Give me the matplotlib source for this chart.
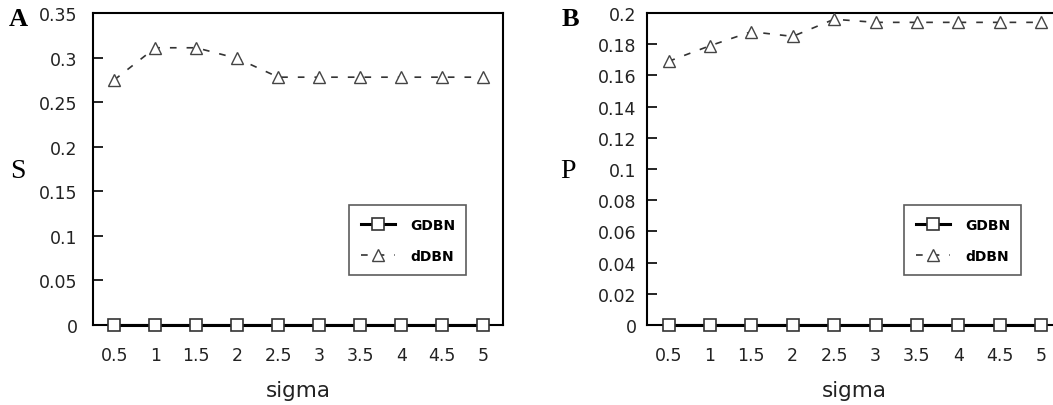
import matplotlib
matplotlib.use('Agg')
import matplotlib.pyplot as plt
from matplotlib.transforms import Affine2D
import numpy as np

plt.rcParams['font.family'] = ['DejaVu Sans']

# 資料
sigma = ["0.5", "1", "1.5", "2", "2.5", "3", "3.5", "4", "4.5", "5"]
s_gdbn = [0, 0, 0, 0, 0, 0, 0, 0, 0, 0]
s_ddbn = [0.275, 0.311, 0.311, 0.299, 0.278, 0.278, 0.278, 0.278, 0.278, 0.278]
p_gdbn = [0, 0, 0, 0, 0, 0, 0, 0, 0, 0]
p_ddbn = [0.169, 0.179, 0.188, 0.185, 0.196, 0.194, 0.194, 0.194, 0.194, 0.194]

W, H = 1053, 406
fig = plt.figure(figsize=(W / 100, H / 100), dpi=100)

# 像素座標 (以左下為原點)
px = Affine2D().scale(1 / W, 1 / H) + fig.transFigure


def px_axes(left, top, right, bottom):
    return fig.add_axes([left / W, 1 - bottom / H, (right - left) / W, (bottom - top) / H])


def draw_panel(ax, gdbn, ddbn, ymax, ystep, letter, ylab, leg_box, ypad, lab_x, let_x):
    x = np.arange(len(sigma))
    ax.plot(x, gdbn, color='black', linewidth=2.2, marker='s', markersize=9,
            markerfacecolor='white', markeredgecolor='#333333', markeredgewidth=1.2,
            label='GDBN', clip_on=False, zorder=5)
    ax.plot(x, ddbn, color='#333333', linewidth=1.2, linestyle=(0, (4, 6)), marker='^',
            markersize=9, markerfacecolor='white', markeredgecolor='#444444',
            markeredgewidth=1.0, label='dDBN', clip_on=False, zorder=4)
    ax.set_xlim(-0.52, 9.48)
    ax.set_ylim(0, ymax)
    ax.set_xticks(x)
    ax.set_xticklabels(sigma)
    yt = np.arange(0, ymax + ystep / 2, ystep)
    ax.set_yticks(yt)
    ax.set_yticklabels([f"{v:g}" for v in np.round(yt, 3)])
    ax.tick_params(axis='y', direction='in', length=7, width=1.2, labelsize=12.5,
                   pad=ypad, labelcolor='#222222')
    ax.tick_params(axis='x', length=0, labelsize=12.5, pad=15, labelcolor='#222222')
    for sp in ax.spines.values():
        sp.set_linewidth(1.5)
    ax.set_xlabel('sigma', fontsize=15.5, labelpad=12, color='#222222')
    ax.text(lab_x, H - 172, ylab, transform=px, fontsize=20,
            family='Liberation Serif', ha='center', va='center')
    ax.text(let_x, H - 19, letter, transform=px, fontsize=19,
            family='Liberation Serif', fontweight='bold', ha='center', va='center')
    leg = ax.legend(loc='lower left', bbox_to_anchor=leg_box, bbox_transform=fig.transFigure,
                    mode='expand', frameon=True, fancybox=False, edgecolor='#333333',
                    handlelength=2.4, labelspacing=1.2, borderpad=0.9,
                    handletextpad=1.1, prop={'weight': 'bold', 'size': 10})
    leg.get_frame().set_linewidth(1.2)


axA = px_axes(93, 14, 503, 326)
draw_panel(axA, s_gdbn, s_ddbn, 0.35, 0.05, 'A', 'S',
           (342 / W, 1 - 283 / H, (473 - 342) / W, (283 - 206) / H), 11, 18, 18)
axB = px_axes(647, 14, 1061, 326)
draw_panel(axB, p_gdbn, p_ddbn, 0.2, 0.02, 'B', 'P',
           (897 / W, 1 - 283 / H, (1028 - 897) / W, (283 - 206) / H), 7.5, 568, 570)

fig.savefig('out.png', dpi=100)
